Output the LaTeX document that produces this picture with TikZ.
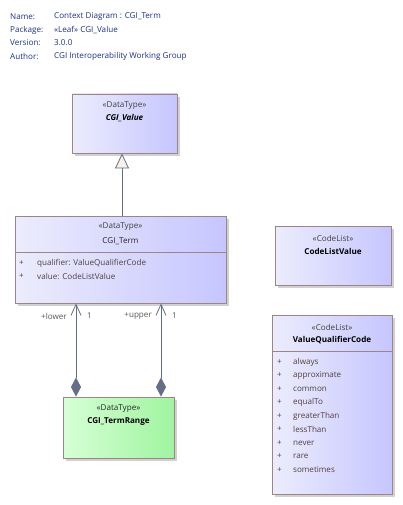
\documentclass[tikz,border=0pt]{standalone}
\usepackage{fontspec}
\setmainfont{Open Sans}
\usetikzlibrary{arrows.meta,shadows}
\definecolor{boxL}{RGB}{236,236,253}
\definecolor{boxR}{RGB}{198,198,255}
\definecolor{grL}{RGB}{214,255,214}
\definecolor{grR}{RGB}{160,244,160}
\definecolor{border}{RGB}{160,132,132}
\definecolor{conn}{RGB}{100,110,135}
\definecolor{hdr}{RGB}{30,50,140}
\definecolor{attr}{RGB}{80,64,64}
\definecolor{trifill}{RGB}{250,240,234}
\tikzset{
  umlbox/.style={rectangle, draw=border, line width=0.9pt, left color=boxL, right color=boxR, inner sep=0pt,
    drop shadow={shadow xshift=3pt, shadow yshift=-3pt, fill=black!18, opacity=1}},
  grbox/.style={umlbox, left color=grL, right color=grR},
  txt/.style={font=\fontsize{8.1}{9.5}\selectfont, inner sep=0pt},
  hd/.style={txt, text=hdr, anchor=west},
  ster/.style={txt, text=black!75},
  nm/.style={txt, text=black, font=\fontsize{8.1}{9.5}\selectfont\bfseries},
  attrtxt/.style={txt, text=attr, anchor=west},
  lbl/.style={txt, text=black!65},
  conline/.style={draw=conn, line width=0.8pt},
}
\begin{document}
\begin{tikzpicture}[x=1pt,y=-1pt]
\useasboundingbox[fill=white] (0,0) rectangle (402,505);
% header
\node[hd] (h1) at (10,17) {Name:};
\node[hd] (h2) at (10,30) {Package:};
\node[hd] (h3) at (10,43) {Version:};
\node[hd] (h4) at (10,56) {Author:};
\node[hd] (v1) at (54,17) {Context Diagram : CGI\_Term};
\node[hd] (v2) at (54,30) {«Leaf» CGI\_Value};
\node[hd] (v3) at (54,43) {3.0.0};
\node[hd] (v4) at (54,56) {CGI Interoperability Working Group};
% CGI_Value
\node[umlbox, minimum width=105pt, minimum height=59pt] (value) at (124.5,123.5) {};
\node[ster] (valueS) at (124.5,106) {«DataType»};
\node[nm, font=\fontsize{8.1}{9.5}\selectfont\bfseries\itshape] (valueN) at (124.5,118) {CGI\_Value};
% CGI_Term
\node[umlbox, minimum width=211pt, minimum height=87pt] (term) at (120.5,259.5) {};
\node[ster] (termS) at (120.5,227) {«DataType»};
\node[txt, text=black!85] (termN) at (120.5,241) {CGI\_Term};
\draw[draw=border, line width=0.6pt] (term.west |- 0,252.5) coordinate (td1) -- (term.east |- 0,252.5) coordinate (td2);
\node[attrtxt] (ta1p) at (19,263) {+};
\node[attrtxt] (ta1) at (37,263) {qualifier: ValueQualifierCode};
\node[attrtxt] (ta2p) at (19,276) {+};
\node[attrtxt] (ta2) at (37,276) {value: CodeListValue};
% CodeListValue
\node[umlbox, minimum width=116pt, minimum height=59pt] (clv) at (333,255.5) {};
\node[ster] (clvS) at (333,238) {«CodeList»};
\node[nm] (clvN) at (333,251) {CodeListValue};
% ValueQualifierCode
\node[umlbox, minimum width=120pt, minimum height=179pt] (vqc) at (332,404.5) {};
\node[ster] (vqcS) at (332,327) {«CodeList»};
\node[nm] (vqcN) at (332,340) {ValueQualifierCode};
\draw[draw=border, line width=0.6pt] (vqc.west |- 0,351) coordinate (vd1) -- (vqc.east |- 0,351) coordinate (vd2);
\foreach \t [count=\i from 0] in {always,approximate,common,equalTo,greaterThan,lessThan,never,rare,sometimes}{
  \node[attrtxt] (vp\i) at (277,362+13.5*\i) {+};
  \node[attrtxt] (vi\i) at (293,362+13.5*\i) {\t};
}
% CGI_TermRange
\node[grbox, minimum width=111pt, minimum height=61pt] (range) at (118.5,427.5) {};
\node[ster, text=black!85] (rangeS) at (118.5,409) {«DataType»};
\node[nm] (rangeN) at (118.5,422) {CGI\_TermRange};
% generalization
\draw[conline, -{Triangle[open, length=15pt, width=14pt, fill=trifill]}]
  ([xshift=1.5pt]term.north) -- ([xshift=1.5pt]term.north |- value.south);
% compositions
\draw[conline, {Diamond[length=19pt, width=10pt, fill=conn]}-{Straight Barb[length=11pt, width=10pt]}]
  ([xshift=-42.5pt]range.north) -- ([xshift=-42.5pt]range.north |- term.south);
\draw[conline, {Diamond[length=19pt, width=10pt, fill=conn]}-{Straight Barb[length=11pt, width=10pt]}]
  ([xshift=42.5pt]range.north) -- ([xshift=42.5pt]range.north |- term.south);
\node[lbl, anchor=east] (l1) at (67,316) {+lower};
\node[lbl, anchor=west] (l2) at (87,316) {1};
\node[lbl, anchor=east] (l3) at (152,316) {+upper};
\node[lbl, anchor=west] (l4) at (172,316) {1};
\end{tikzpicture}
\end{document}
